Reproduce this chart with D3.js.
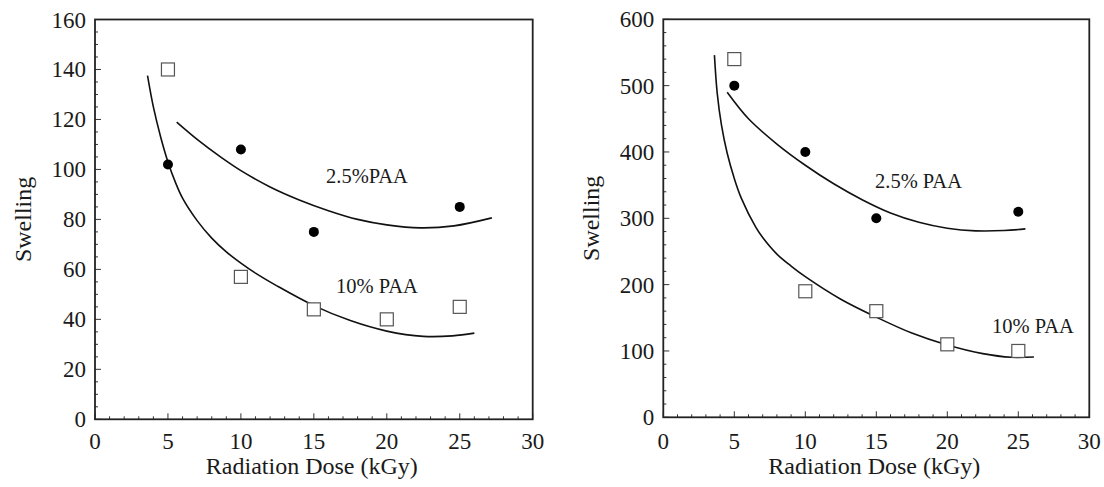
<!DOCTYPE html>
<html lang="en">
<head>
  <meta charset="utf-8">
  <title>Swelling vs Radiation Dose</title>
  <script src="https://d3js.org/d3.v7.min.js"></script>
  <style>
    body { margin: 0; background: #fff; }
  </style>
</head>
<body>
<svg id="chart" width="1104" height="487"></svg>

<script>
// ---- data ----
var xTicks = [0, 5, 10, 15, 20, 25, 30];
var leftYTicks = [0, 20, 40, 60, 80, 100, 120, 140, 160];
var rightYTicks = [0, 100, 200, 300, 400, 500, 600];

// left panel: measured points
var leftDose25 = [5, 10, 15, 25];
var leftSwell25 = [102, 108, 75, 85];
var leftDose10 = [5, 10, 15, 20, 25];
var leftSwell10 = [140, 57, 44, 40, 45];

// left panel: fitted curves (traced)
var leftFit25 = [[5.6, 118.9], [7, 112], [8.6, 105], [10, 99.5], [12, 93], [14, 87.8],
                 [16, 83.5], [18, 80], [20, 77.8], [22.3, 76.6], [24.6, 77.4], [27.2, 80.6]];
var leftFit10 = [[3.6, 137.5], [4.0, 125], [4.5, 113], [5.0, 103], [5.5, 95], [6.0, 88.5],
                 [7.0, 79.5], [8.0, 72.5], [9, 67], [10, 62.5], [11, 58.5], [12.5, 53.3],
                 [15, 45.5], [17.5, 39.5], [20, 35.3], [22.5, 33.2], [24.5, 33.4], [26, 34.5]];

// right panel: measured points
var rightDose25 = [5, 10, 15, 25];
var rightSwell25 = [500, 400, 300, 310];
var rightDose10 = [5, 10, 15, 20, 25];
var rightSwell10 = [540, 190, 160, 110, 100];

// right panel: fitted curves (traced)
var rightFit25 = [[4.5, 490], [6, 450], [8, 412], [10, 380], [12, 352], [14, 328], [16, 308],
                  [18, 294], [20, 285], [22, 281], [24, 281.5], [25.5, 284]];
var rightFit10 = [[3.6, 546], [3.8, 488], [4.1, 440], [4.5, 398], [5, 360], [5.5, 330],
                  [6.5, 287], [7, 271], [8, 246], [9, 228], [10, 212], [12.5, 178],
                  [15, 151], [17.5, 127], [20, 109], [22.5, 96], [24.5, 90.5], [26.1, 91]];

var serif = '"Liberation Serif", "Times New Roman", "DejaVu Serif", "Noto Serif", serif';

var panels = [
  { left: 95, top: 19.5, width: 437.7, height: 399.8, yMax: 160, yTicks: leftYTicks, yMinor: 5,
    d25: leftDose25, s25: leftSwell25, d10: leftDose10, s10: leftSwell10,
    fit25: leftFit25, fit10: leftFit10,
    label25: { text: "2.5%PAA", x: 326, y: 183 },
    label10: { text: "10% PAA", x: 336, y: 293 },
    yTitleX: 31 },
  { left: 663.3, top: 19.3, width: 426, height: 398, yMax: 600, yTicks: rightYTicks, yMinor: 20,
    d25: rightDose25, s25: rightSwell25, d10: rightDose10, s10: rightSwell10,
    fit25: rightFit25, fit10: rightFit10,
    label25: { text: "2.5% PAA", x: 875, y: 188 },
    label10: { text: "10% PAA", x: 992, y: 333 },
    yTitleX: 599 }
];

var svg = d3.select("#chart");

panels.forEach(function(p) {
  var x = d3.scaleLinear().domain([0, 30]).range([p.left, p.left + p.width]);
  var y = d3.scaleLinear().domain([0, p.yMax]).range([p.top + p.height, p.top]);
  var g = svg.append("g").attr("font-family", serif).attr("fill", "#1a1a1a");
  var bottom = p.top + p.height;

  // minor + major ticks, pointing inward
  var xMinor = d3.range(0, 30.001, 1);
  g.selectAll(".xt").data(xMinor).enter().append("line")
    .attr("x1", function(d) { return x(d); }).attr("x2", function(d) { return x(d); })
    .attr("y1", bottom).attr("y2", function(d) { return bottom - (d % 5 === 0 ? 6 : 3); })
    .attr("stroke", "#333").attr("stroke-width", 1);

  var yMinor = d3.range(0, p.yMax + 0.001, p.yMinor);
  var yMajorStep = p.yTicks[1] - p.yTicks[0];
  g.selectAll(".yt").data(yMinor).enter().append("line")
    .attr("y1", function(d) { return y(d); }).attr("y2", function(d) { return y(d); })
    .attr("x1", p.left).attr("x2", function(d) { return p.left + (d % yMajorStep === 0 ? 6 : 3); })
    .attr("stroke", "#333").attr("stroke-width", 1);

  // frame
  g.append("rect")
    .attr("x", p.left).attr("y", p.top).attr("width", p.width).attr("height", p.height)
    .attr("fill", "none").attr("stroke", "#222").attr("stroke-width", 1.8);

  // tick labels
  g.selectAll(".xl").data(xTicks).enter().append("text")
    .attr("x", function(d) { return x(d); }).attr("y", 449)
    .attr("text-anchor", "middle").attr("font-size", 23)
    .text(function(d) { return d; });

  g.selectAll(".yl").data(p.yTicks).enter().append("text")
    .attr("x", p.left - 9).attr("y", function(d) { return y(d) + 8; })
    .attr("text-anchor", "end").attr("font-size", 23)
    .text(function(d) { return d; });

  // axis titles
  g.append("text")
    .attr("x", p.left + p.width / 2 - 2).attr("y", 474)
    .attr("text-anchor", "middle").attr("font-size", 24)
    .text("Radiation Dose (kGy)");

  g.append("text")
    .attr("transform", "translate(" + p.yTitleX + "," + (p.top + p.height / 2) + ") rotate(-90)")
    .attr("text-anchor", "middle").attr("font-size", 24)
    .text("Swelling");

  // fitted curves
  var line = d3.line()
    .x(function(d) { return x(d[0]); })
    .y(function(d) { return y(d[1]); })
    .curve(d3.curveCatmullRom.alpha(0.5));

  [p.fit25, p.fit10].forEach(function(f) {
    g.append("path").attr("d", line(f))
      .attr("fill", "none").attr("stroke", "#111").attr("stroke-width", 1.6);
  });

  // open squares (10% PAA)
  g.selectAll(".sq").data(p.d10).enter().append("rect")
    .attr("x", function(d) { return x(d) - 6.5; })
    .attr("y", function(d, i) { return y(p.s10[i]) - 6.5; })
    .attr("width", 13).attr("height", 13)
    .attr("fill", "#fff").attr("stroke", "#555").attr("stroke-width", 1.2);

  // filled circles (2.5% PAA)
  g.selectAll(".dot").data(p.d25).enter().append("circle")
    .attr("cx", function(d) { return x(d); })
    .attr("cy", function(d, i) { return y(p.s25[i]); })
    .attr("r", 5).attr("fill", "#000");

  // curve labels
  [p.label25, p.label10].forEach(function(l) {
    g.append("text").attr("x", l.x).attr("y", l.y)
      .attr("font-size", 20.5).text(l.text);
  });
});
</script>
</body>
</html>
